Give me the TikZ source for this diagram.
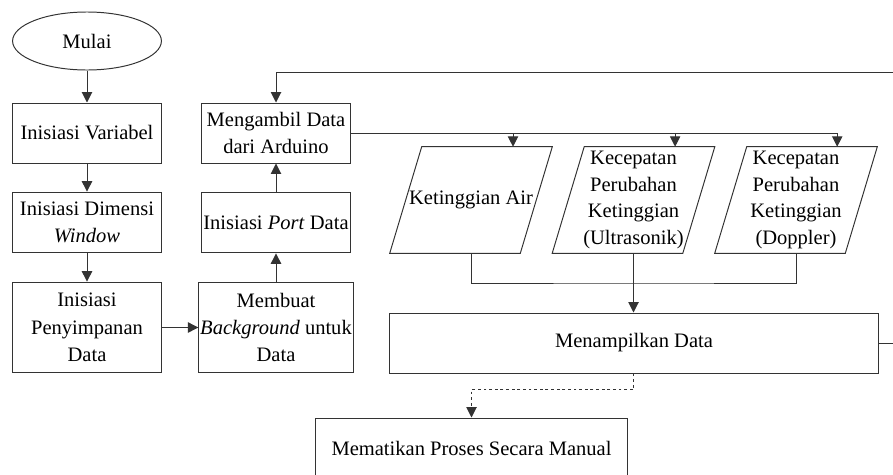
\documentclass[tikz,border=0pt]{standalone}
\usepackage{fontspec}
\setmainfont{LiberationSerif}[Extension=.ttf,UprightFont=*-Regular,ItalicFont=*-Italic,BoldFont=*-Bold,BoldItalicFont=*-BoldItalic]
\usepackage{tikz}
\usetikzlibrary{shapes.geometric,arrows.meta}
\definecolor{garis}{HTML}{333333}
\tikzset{
	proses/.style={draw=garis,line width=0.7pt,rectangle,align=center,inner sep=1pt,
		font=\fontsize{14.6}{19.5}\selectfont},
	mulaibox/.style={draw=garis,line width=0.7pt,ellipse,inner sep=0pt,
		font=\fontsize{14.6}{19.5}\selectfont},
	databox/.style={rectangle,align=center,inner sep=0pt,
		minimum width=4.05cm,minimum height=2.65cm,font=\fontsize{14.6}{18.9}\selectfont},
	alur/.style={draw=garis,line width=0.7pt,-{Triangle[length=0.26cm,width=0.26cm]}},
	garisbiasa/.style={draw=garis,line width=0.7pt}
}
\begin{document}
\begin{tikzpicture}[x=0.025cm,y=-0.025cm]
	\useasboundingbox (0,0) rectangle (893,474);

	\node[mulaibox,minimum width=3.72cm,minimum height=1.45cm] (mulai) at (87,41) {Mulai};
	\node[proses,minimum width=3.72cm,minimum height=1.5cm] (variabel) at (87,133) {Inisiasi Variabel};
	\node[proses,minimum width=3.72cm,minimum height=1.52cm] (dimensi) at (87,222.5) {Inisiasi Dimensi\\\textit{Window}};
	\node[proses,minimum width=3.72cm,minimum height=2.27cm] (simpan) at (87,327.5) {Inisiasi\\Penyimpanan\\Data};
	\node[proses,minimum width=3.72cm,minimum height=2.27cm] (latar) at (276,327.5) {Membuat\\\textit{Background} untuk\\Data};
	\node[proses,minimum width=3.72cm,minimum height=1.52cm] (port) at (276,222.5) {Inisiasi \textit{Port} Data};
	\node[proses,minimum width=3.72cm,minimum height=1.5cm] (ambil) at (276,133) {Mengambil Data\\dari Arduino};
	\node[databox] (tinggi) at (471,200) {Ketinggian Air};
	\node[databox] (ultra) at (633.5,200) {Kecepatan\\Perubahan\\Ketinggian\\(Ultrasonik)};
	\node[databox] (doppler) at (796,200) {Kecepatan\\Perubahan\\Ketinggian\\(Doppler)};
	\node[proses,minimum width=12.2cm,minimum height=1.5cm] (tampil) at (634,343) {Menampilkan Data};
	\node[proses,minimum width=7.78cm,minimum height=1.5cm] (mati) at (471.5,448) {Mematikan Proses Secara Manual};

	\foreach \d in {tinggi,ultra,doppler}
		\draw[garisbiasa] ([xshift=0.8cm]\d.north west) -- (\d.north east) -- ([xshift=-0.8cm]\d.south east) -- (\d.south west) -- cycle;

	\coordinate (gabung) at (633.5,283);
	\coordinate (balikR) at (910,343);
	\coordinate (balikT) at (910,72);

	\draw[alur] (mulai) -- (variabel);
	\draw[alur] (variabel) -- (dimensi);
	\draw[alur] (dimensi) -- (simpan);
	\draw[alur] (simpan) -- (latar);
	\draw[alur] (latar) -- (port);
	\draw[alur] (port) -- (ambil);
	\draw[alur] (ambil.east) -| ([xshift=1.05cm]tinggi.north);
	\draw[alur] (ambil.east) -| ([xshift=1.04cm]ultra.north);
	\draw[alur] (ambil.east) -| ([xshift=1.03cm]doppler.north);
	\draw[garisbiasa] (tinggi.south) |- (gabung) -| (doppler.south);
	\draw[alur] (ultra.south) -- (tampil.north -| ultra.south);
	\draw[alur] (tampil.east) -- (balikR) -- (balikT) -| (ambil.north);
	\draw[alur,dash pattern=on 2pt off 2pt] (tampil.south -| ultra.south) -- ++(0,16) -| (mati.north);
\end{tikzpicture}
\end{document}
